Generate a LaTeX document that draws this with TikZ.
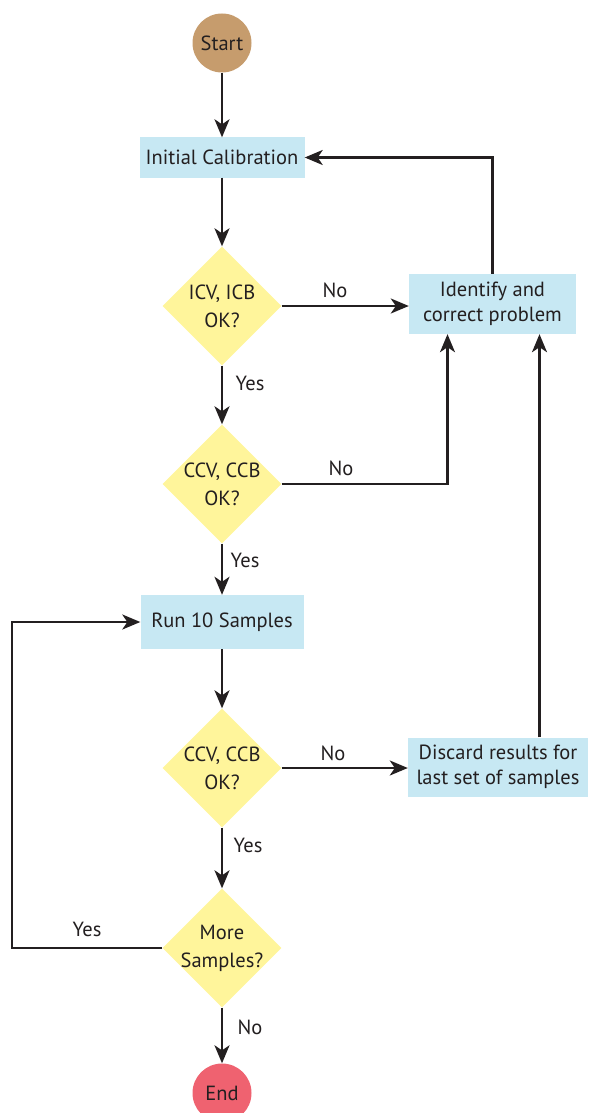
\documentclass[tikz,border=0pt]{standalone}
\usepackage{fontspec}
\setmainfont{PT Sans}
\usetikzlibrary{shapes.geometric,arrows.meta,calc}
\definecolor{ink}{HTML}{231F20}
\definecolor{startc}{HTML}{C69C6D}
\definecolor{endc}{HTML}{EF6270}
\definecolor{boxc}{HTML}{C7E8F3}
\definecolor{decc}{HTML}{FFF59B}
\newcommand{\zw}[1]{\makebox[0pt]{#1}}
\tikzset{
  every node/.style={text=ink, font=\fontsize{20.5pt}{25pt}\selectfont},
  terminal/.style={circle, minimum size=59pt, inner sep=0pt},
  procbox/.style={rectangle, fill=boxc, inner sep=0pt, align=center},
  decision/.style={diamond, fill=decc, minimum width=119pt, minimum height=119pt, inner sep=0pt, align=center},
  arr/.style={draw=ink, line width=2.2pt, -{Stealth[length=18pt,width=15pt,inset=5pt]}},
  lbl/.style={inner sep=0pt}
}
\begin{document}
\begin{tikzpicture}[x=1pt,y=-1pt]
\useasboundingbox (0,0) rectangle (590,1113);
\clip (0,0) rectangle (590,1113);
\node[terminal, fill=startc] (start) at (222,43) {Start};
\node[procbox, minimum width=165pt, minimum height=40pt] (init) at (222,157.5) {Initial Calibration};
\node[decision] (d1) at (222,306) {\zw{ICV, ICB}\\[3pt]\zw{OK?}};
\node[procbox, minimum width=167pt, minimum height=60pt] (ident) at (492.5,304) {Identify and\\correct problem};
\node[decision] (d2) at (222,484) {\zw{CCV, CCB}\\[3pt]\zw{OK?}};
\node[procbox, minimum width=163pt, minimum height=54pt] (run) at (222,622) {Run 10 Samples};
\node[decision] (d3) at (222,768) {\zw{CCV, CCB}\\[3pt]\zw{OK?}};
\node[procbox, minimum width=180pt, minimum height=59pt] (disc) at (498,767) {Discard results for\\last set of samples};
\node[decision] (d4) at (222,948) {\zw{More}\\[3pt]\zw{Samples?}};
\node[terminal, fill=endc] (end) at (222,1093) {End};
\coordinate (loopL) at (12,948);

\draw[arr] (start) -- (init);
\draw[arr] (init) -- (d1);
\draw[arr] (d1.east) -- (d1.east -| ident.west);
\draw[arr] (ident.north) |- (init.east);
\draw[arr] (d1) -- (d2);
\draw[arr] (d2.east) -| ([xshift=-45pt]ident.south);
\draw[arr] (d2) -- (run);
\draw[arr] (run) -- (d3);
\draw[arr] (d3.east) -- (d3.east -| disc.west);
\draw[arr] ([xshift=41.5pt]disc.north) -- ([xshift=41.5pt]disc.north |- ident.south);
\draw[arr] (d3) -- (d4);
\draw[arr] (d4.west) -- (loopL) |- (run.west);
\draw[arr] (d4) -- (end);

\node[lbl] (l1) at (335,290) {No};
\node[lbl] (l2) at (250,383) {Yes};
\node[lbl] (l3) at (341,468) {No};
\node[lbl] (l4) at (245,560) {Yes};
\node[lbl] (l5) at (333,753) {No};
\node[lbl] (l6) at (248,845) {Yes};
\node[lbl] (l7) at (87,929) {Yes};
\node[lbl] (l8) at (250,1027) {No};
\end{tikzpicture}
\end{document}
